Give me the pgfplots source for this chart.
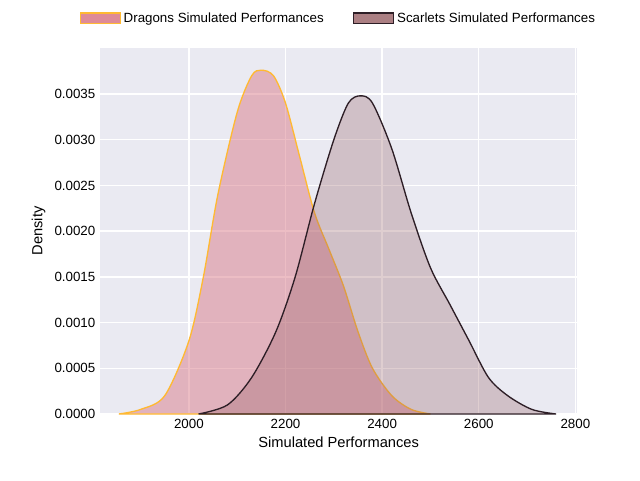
\documentclass[border=0pt]{standalone}
\usepackage{pgfplots}
\pgfplotsset{compat=1.18}
\usepackage{fontspec}
\setmainfont{Liberation Sans}
\definecolor{bg}{HTML}{EAEAF2}
\definecolor{dfill}{RGB}{215,110,125}
\definecolor{dline}{RGB}{255,185,50}
\definecolor{sfill}{RGB}{150,95,100}
\definecolor{sline}{RGB}{45,30,38}
\begin{document}
\begin{tikzpicture}
\path (0,0) rectangle (480pt,360pt);
\begin{axis}[at={(75pt,49.5pt)},anchor=south west,scale only axis,width=358pt,height=274.5pt,
 xmin=1816,xmax=2804,ymin=0,ymax=0.004003,
 axis background/.style={fill=bg},axis line style={draw=none},
 grid=major,grid style={white,line width=1pt},tick style={draw=none},
 xtick={2000,2200,2400,2600,2800},ytick={0,0.0005,...,0.0036},
 /pgf/number format/assume math mode=true,
 xticklabel style={/pgf/number format/1000 sep={}},
 yticklabel style={/pgf/number format/.cd,fixed,fixed zerofill,precision=4},
 scaled y ticks=false,
 ticklabel style={font=\fontsize{10}{12}\selectfont},
 label style={font=\fontsize{11}{13}\selectfont},
 xlabel={Simulated Performances},ylabel={Density},
 legend style={at={(0.5,1.05)},anchor=south,draw=none,fill=none,legend columns=2,font=\fontsize{10}{12}\selectfont,/tikz/every even column/.append style={column sep=20pt}},
 legend image code/.code={\draw[#1,fill opacity=0.8] (0,-4pt) rectangle (30pt,4pt);},
]
\addplot[smooth,fill=dfill,fill opacity=0.45,draw=dline,line width=1pt] coordinates {(1855,0)(1900,0.00005)(1950,0.0002)(2000,0.0008)(2030,0.0015)(2060,0.0024)(2100,0.0033)(2130,0.0037)(2150,0.00376)(2175,0.0037)(2200,0.0034)(2230,0.0028)(2260,0.0022)(2290,0.0018)(2320,0.0014)(2350,0.0009)(2380,0.0005)(2420,0.0002)(2460,0.00005)(2500,0)} \closedcycle;
\addlegendentry{Dragons Simulated Performances}
\addplot[smooth,fill=sfill,fill opacity=0.3,draw=sline,line width=1pt] coordinates {(2020,0)(2080,0.0001)(2130,0.0004)(2180,0.0009)(2220,0.0015)(2260,0.0023)(2300,0.0030)(2330,0.0034)(2355,0.00348)(2380,0.0034)(2420,0.0029)(2460,0.0022)(2500,0.0016)(2540,0.0012)(2580,0.0008)(2620,0.0004)(2660,0.0002)(2710,0.00005)(2760,0)} \closedcycle;
\addlegendentry{Scarlets Simulated Performances}
\end{axis}
\end{tikzpicture}
\end{document}
